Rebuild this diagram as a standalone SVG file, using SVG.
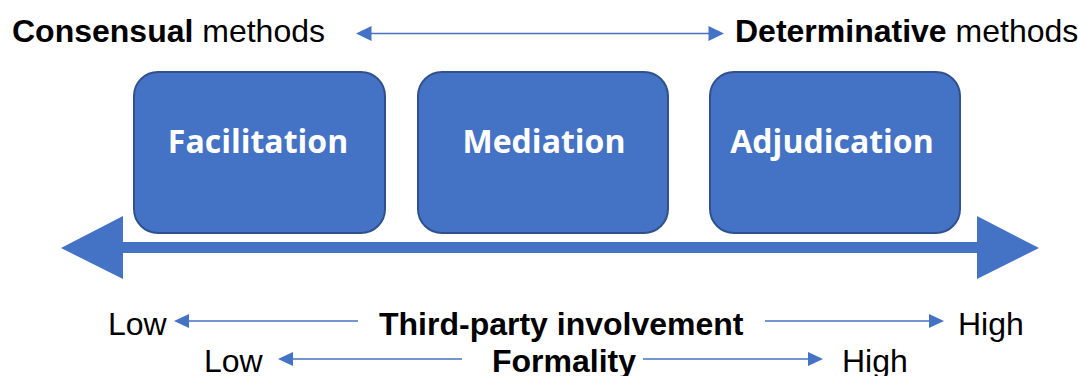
<svg xmlns="http://www.w3.org/2000/svg" width="1078" height="376" viewBox="0 0 1078 376">
<defs>
<style>
.t{font-family:"Liberation Sans",Arial,sans-serif;font-size:32px;fill:#000}
.b{font-weight:bold}
.box{fill:#4472c4;stroke:#2f528f;stroke-width:2}
.lbl{font-family:"Open Sans","Noto Sans",sans-serif;font-weight:bold;font-size:32px;fill:#fff;text-anchor:middle}
.ln{stroke:#4472c4;stroke-width:1.5;fill:none}
.hd{fill:#4472c4}
</style>
</defs>
<g id="title-left"><text class="t" x="12" y="42"><tspan class="b">Consensual</tspan> methods</text></g>
<g id="title-right"><text class="t" x="735" y="42"><tspan class="b">Determinative</tspan> methods</text></g>
<g id="facilitation"><rect class="box" x="134" y="72" width="251" height="161" rx="24"/><text class="lbl" x="258" y="153">Facilitation</text></g>
<g id="mediation"><rect class="box" x="418" y="72" width="250" height="161" rx="24"/><text class="lbl" x="544" y="153">Mediation</text></g>
<g id="adjudication"><rect class="box" x="710" y="72" width="250" height="161" rx="24"/><text class="lbl" x="832" y="153">Adjudication</text></g>
<g id="connectors">
<polygon class="hd" points="61,248 123,216 123,242 977,242 977,216 1039,248 977,279 977,253 123,253 123,279"/>
<line class="ln" x1="370" y1="33.5" x2="711" y2="33.5"/>
<polygon class="hd" points="356,33.5 371.5,26 371.5,41"/>
<polygon class="hd" points="724,33.5 708.5,26 708.5,41"/>
<line class="ln" x1="187" y1="321" x2="358" y2="321"/>
<polygon class="hd" points="174,321 189,314 189,328"/>
<line class="ln" x1="765" y1="321" x2="931" y2="321"/>
<polygon class="hd" points="944,321 929,314 929,328"/>
<line class="ln" x1="291" y1="359" x2="462" y2="359"/>
<polygon class="hd" points="278,359 293,352 293,366"/>
<line class="ln" x1="643" y1="359" x2="810" y2="359"/>
<polygon class="hd" points="823,359 808,352 808,366"/>
</g>
<g id="bottom-labels">
<text class="t" x="108" y="335">Low</text>
<text class="t b" x="379" y="335">Third-party involvement</text>
<text class="t" x="958" y="335">High</text>
<text class="t" x="204" y="372">Low</text>
<text class="t b" x="492" y="372">Formality</text>
<text class="t" x="842" y="372">High</text>
</g>
</svg>
